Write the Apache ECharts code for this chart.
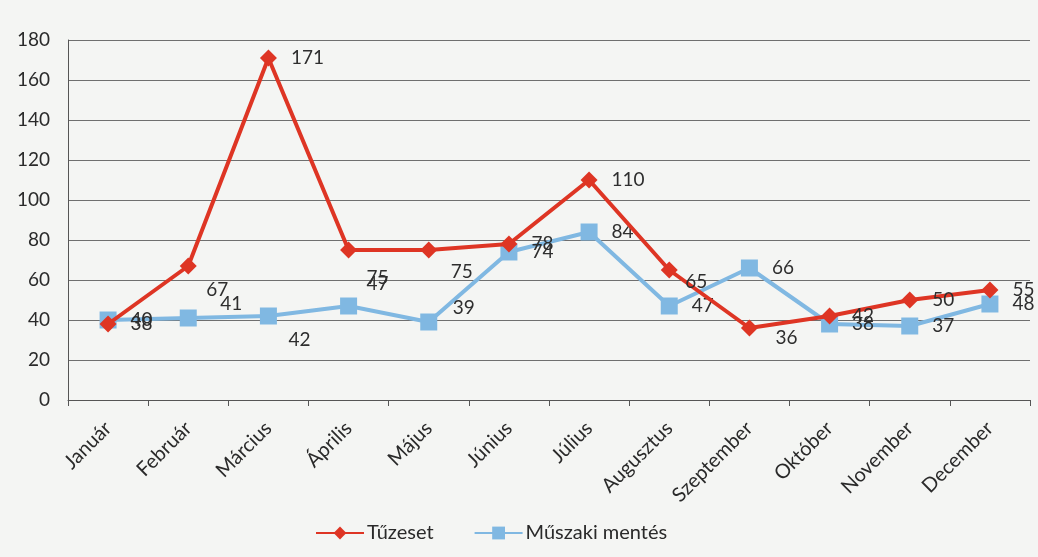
<!DOCTYPE html>
<html>
<head>
<meta charset="utf-8">
<script src="https://cdn.jsdelivr.net/npm/echarts@6/dist/echarts.min.js"></script>
<style>
  html, body { margin: 0; padding: 0; background: #f4f5f3; }
  #chart { width: 1038px; height: 557px; }
</style>
</head>
<body>
<div id="chart"></div>
<script>
const months = ['Január', 'Február', 'Március', 'Április', 'Május', 'Június', 'Július',
  'Augusztus', 'Szeptember', 'Október', 'November', 'December'];
const tuzeset = [38, 67, 171, 75, 75, 78, 110, 65, 36, 42, 50, 55];
const muszaki = [40, 41, 42, 47, 39, 74, 84, 47, 66, 38, 37, 48];

// label placement per point (hand tuned like in the scanned excel chart)
const redLabelPos = ['right', [18, 24], 'right', [18, 28], [22, 22], 'right', 'right', [16, 12], [26, 10], 'right', 'right', 'right'];
const blueLabelPos = ['right', [32, -14], [20, 24], [18, -22], [24, -14], 'right', 'right', 'right', 'right', 'right', 'right', 'right'];

const font = 'Lato, "Open Sans", sans-serif';

function withLabels(values, positions) {
  return values.map((v, i) => {
    const p = positions[i];
    if (p === 'right') return { value: v };
    return { value: v, label: { position: 'inside', offset: p, align: 'left', verticalAlign: 'middle' } };
  });
}

const chart = echarts.init(document.getElementById('chart'));
const option = {
  animation: false,
  backgroundColor: '#f4f5f3',
  textStyle: { fontFamily: font },
  grid: { left: 68, right: 8, top: 40, bottom: 157 },
  legend: {
    top: 518,
    left: 310,
    itemWidth: 48,
    itemHeight: 16,
    itemGap: 40,
    textStyle: { fontSize: 20, color: '#2a2a2a', fontFamily: font, padding: [0, 0, 0, -2] },
    data: ['Tűzeset', 'Műszaki mentés']
  },
  xAxis: {
    type: 'category',
    data: months,
    boundaryGap: true,
    axisLine: { lineStyle: { color: '#555', width: 1 } },
    axisTick: { show: true, alignWithLabel: false, length: 6, lineStyle: { color: '#555' } },
    axisLabel: { rotate: 45, margin: 25, fontSize: 20, color: '#2a2a2a', fontFamily: font, interval: 0 }
  },
  yAxis: {
    type: 'value',
    min: 0,
    max: 180,
    interval: 20,
    axisLine: { show: true, lineStyle: { color: '#555' } },
    axisTick: { show: false },
    splitLine: { lineStyle: { color: '#6f6f6f', width: 1 } },
    axisLabel: { fontSize: 19, color: '#2a2a2a', margin: 18, fontFamily: font }
  },
  series: [
    {
      name: 'Tűzeset',
      type: 'line',
      data: withLabels(tuzeset, redLabelPos),
      symbol: 'diamond',
      symbolSize: 17,
      color: '#de3524',
      lineStyle: { width: 4, color: '#de3524' },
      itemStyle: { color: '#de3524' },
      label: { show: true, position: 'right', distance: 14, fontSize: 19, color: '#2e2e2e', fontFamily: font },
      z: 3
    },
    {
      name: 'Műszaki mentés',
      type: 'line',
      data: withLabels(muszaki, blueLabelPos),
      symbol: 'rect',
      symbolSize: 17,
      color: '#80b8e2',
      lineStyle: { width: 4, color: '#80b8e2' },
      itemStyle: { color: '#80b8e2' },
      label: { show: true, position: 'right', distance: 14, fontSize: 19, color: '#2e2e2e', fontFamily: font },
      z: 2
    }
  ]
};
chart.setOption(option);
</script>
</body>
</html>
